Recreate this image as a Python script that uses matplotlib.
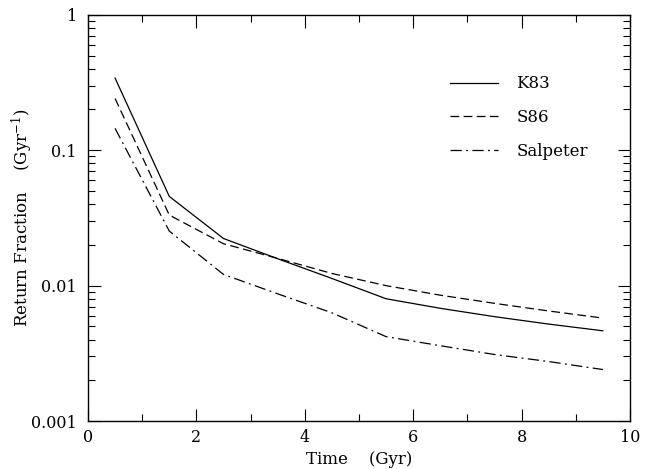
import numpy as np
import matplotlib
matplotlib.use('Agg')
import matplotlib.pyplot as plt
from matplotlib.ticker import FixedLocator, FixedFormatter, LogLocator, NullFormatter

plt.rcParams['font.family'] = ['DejaVu Serif']
plt.rcParams['mathtext.fontset'] = 'dejavuserif'

time = [0.5, 1.5, 2.5, 3.5, 4.5, 5.5, 6.5, 7.5, 8.5, 9.5]
k83 = [0.341, 0.0456, 0.0223, 0.0158, 0.0113, 0.0080, 0.0068, 0.0059, 0.0052, 0.00464]
s86 = [0.241, 0.0332, 0.0204, 0.0159, 0.0123, 0.0100, 0.0085, 0.0074, 0.0065, 0.00576]
salpeter = [0.145, 0.0253, 0.0121, 0.0087, 0.0063, 0.0042, 0.0036, 0.0031, 0.00275, 0.0024]

fig = plt.figure(figsize=(6.46, 4.69), dpi=100)
ax = fig.add_axes([0.1362, 0.1023, 0.839, 0.866])

ax.plot(time, k83, 'k-', lw=0.9, label='K83')
ax.plot(time, s86, 'k', ls=(0, (7, 3.5)), lw=0.9, label='S86')
ax.plot(time, salpeter, 'k', ls=(0, (9, 3.5, 1.5, 3.5)), lw=0.9, label='Salpeter')

ax.set_yscale('log')
ax.set_xlim(0, 10)
ax.set_ylim(0.001, 1)
ax.set_xticks([0, 2, 4, 6, 8, 10])
ax.set_xticks([1, 3, 5, 7, 9], minor=True)
ax.yaxis.set_major_locator(FixedLocator([0.001, 0.01, 0.1, 1]))
ax.yaxis.set_major_formatter(FixedFormatter(['0.001', '0.01', '0.1', '1']))
ax.yaxis.set_minor_locator(LogLocator(base=10, subs=np.arange(2, 10)))
ax.yaxis.set_minor_formatter(NullFormatter())

ax.tick_params(which='both', direction='in', top=True, right=True, labelsize=11.5)
ax.tick_params(axis='x', which='major', pad=6)
ax.tick_params(axis='y', which='major', pad=8)
ax.tick_params(which='major', length=9, width=0.8)
ax.tick_params(which='minor', length=5, width=0.8)
for s in ax.spines.values():
    s.set_linewidth(1.0)

ax.set_xlabel('Time    (Gyr)', fontsize=12, labelpad=3)
ax.set_ylabel('Return Fraction    (Gyr$^{-1}$)', fontsize=12)
ax.yaxis.set_label_coords(-0.097, 0.5)

ax.legend(frameon=False, loc='upper left', bbox_to_anchor=(0.64, 0.888), fontsize=12,
          handlelength=2.9, handletextpad=1.1, labelspacing=1.0)

fig.savefig('out.png', dpi=100)
